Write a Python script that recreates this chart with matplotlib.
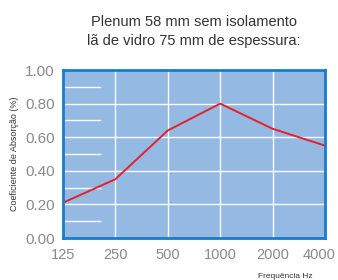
import matplotlib
matplotlib.use("Agg")
import matplotlib.pyplot as plt
import matplotlib.transforms as mtransforms
import numpy as np

categories = ["125", "250", "500", "1000", "2000", "4000"]
values = [0.21, 0.35, 0.64, 0.80, 0.65, 0.55]
yticks = [0.0, 0.2, 0.4, 0.6, 0.8, 1.0]
yticklabels = ["0.00", "0.20", "0.40", "0.60", "0.80", "1.00"]
minor_ys = [0.1, 0.3, 0.5, 0.7, 0.9]

plt.rcParams['font.family'] = ['Liberation Sans', 'DejaVu Sans']
fig = plt.figure(figsize=(3.38, 2.8), dpi=100)
ax = fig.add_axes([63/338, 1-238/280, (325-63)/338, (238-70)/280])
ax.set_facecolor('#94bae3')
x = np.arange(len(categories))
ax.set_xlim(0, len(categories)-1)
ax.set_ylim(0, 1.0)

for xi in x[1:-1]:
    ax.axvline(xi, color='white', lw=1.0, zorder=1)
for yv in yticks[1:-1]:
    ax.axhline(yv, color='white', lw=1.0, zorder=1)
for yv in minor_ys:
    ax.axhline(yv, xmin=0, xmax=0.14, color='white', lw=1.0, zorder=1)

ax.plot(x, values, color='#e8202a', lw=1.4, zorder=3)

for s in ax.spines.values():
    s.set_color('#1a7cc6')
    s.set_linewidth(2.0)
    s.set_zorder(4)

ax.set_xticks(x)
ax.set_xticklabels(categories)
ax.set_yticks(yticks)
ax.set_yticklabels(yticklabels)
ax.tick_params(length=0, labelsize=11, labelcolor='#8a8a8a', pad=6)
ax.tick_params(axis='x', labelsize=10.5, pad=7)

last = ax.get_xticklabels()[-1]
last.set_transform(last.get_transform() + mtransforms.ScaledTranslation(-6/100, 0, fig.dpi_scale_trans))

ax.set_ylabel("Coeficiente de Absorção (%)", fontsize=6.5, color='#333333', labelpad=4)
fig.text(285/338, 1-276/280, "Frequência Hz", fontsize=6, color='#333333', ha='center', va='center')
fig.text(194/338, 1-22/280, "Plenum 58 mm sem isolamento", fontsize=10.5, color='#333333', ha='center', va='center')
fig.text(194/338, 1-41/280, "lã de vidro 75 mm de espessura:", fontsize=10.5, color='#333333', ha='center', va='center')

fig.savefig("out.png", dpi=100)
